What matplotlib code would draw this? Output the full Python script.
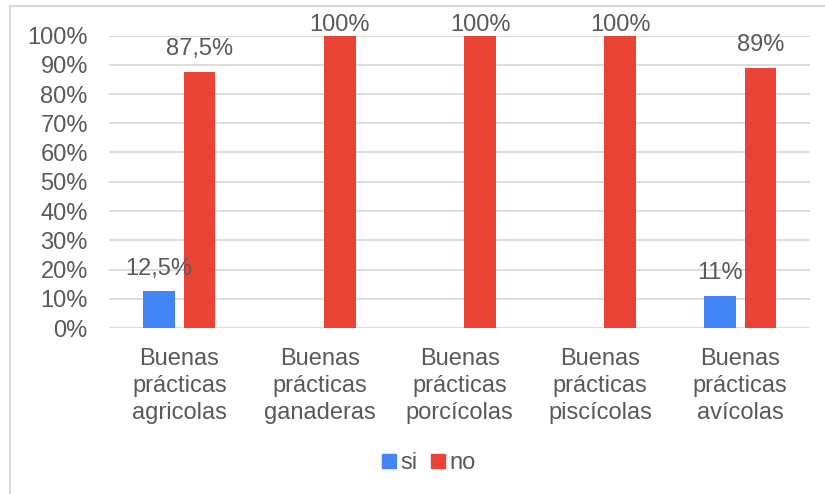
import matplotlib
matplotlib.use("Agg")
import matplotlib.pyplot as plt
import numpy as np
from matplotlib.lines import Line2D

plt.rcParams['font.family'] = ['Liberation Sans', 'DejaVu Sans']

categories = ["Buenas\nprácticas\nagricolas", "Buenas\nprácticas\nganaderas",
              "Buenas\nprácticas\nporcícolas", "Buenas\nprácticas\npiscícolas",
              "Buenas\nprácticas\navícolas"]
si_values = [12.5, 0, 0, 0, 11]
no_values = [87.5, 100, 100, 100, 89]
si_labels = ["12,5%", "", "", "", "11%"]
no_labels = ["87,5%", "100%", "100%", "100%", "89%"]
yticks = [0, 10, 20, 30, 40, 50, 60, 70, 80, 90, 100]

blue = "#4285F4"
red = "#EA4335"
txt = "#595959"
grid = "#D9D9D9"

W, H = 825, 494
fig = plt.figure(figsize=(8.25, 4.94), dpi=100)
ax = fig.add_axes([109.3 / W, 1 - 328 / H, (810.3 - 109.3) / W, (328 - 35.5) / H])

x = np.arange(len(categories))
bw = 0.225
gap = 0.064
off = (bw + gap) / 2
ax.bar(x - off, si_values, bw, color=blue, label="si", zorder=3)
ax.bar(x + off, no_values, bw, color=red, label="no", zorder=3)

fs = 17
for xs, vals, labs in ((x - off, si_values, si_labels), (x + off, no_values, no_labels)):
    for xi, v, lab in zip(xs, vals, labs):
        if lab:
            ax.annotate(lab, (xi, v), xytext=(0, 8.5 if v < 95 else -0.5), textcoords="offset points",
                        ha="center", va="bottom", fontsize=fs, color=txt, zorder=4,
                        annotation_clip=False)

ax.set_xlim(-0.5, len(categories) - 0.5)
ax.set_ylim(0, 100)
ax.set_yticks(yticks)
ax.set_yticklabels([f"{t}%" for t in yticks])
ax.set_xticks(x)
ax.set_xticklabels(categories, linespacing=1.3)
ax.tick_params(axis="both", length=0, labelsize=fs, labelcolor=txt)
ax.tick_params(axis="y", pad=15.5)
ax.tick_params(axis="x", pad=14.5)
ax.grid(axis="y", color=grid, linewidth=1.3, zorder=0)
for s in ax.spines.values():
    s.set_visible(False)

handles = [Line2D([], [], marker="s", linestyle="none", markersize=10, color=blue),
           Line2D([], [], marker="s", linestyle="none", markersize=10, color=red)]
fig.legend(handles, ["si", "no"], loc="center", bbox_to_anchor=(428 / W, 1 - 463 / H),
           ncol=2, frameon=False, fontsize=fs, labelcolor=txt, handlelength=0.7,
           handletextpad=0.15, columnspacing=0.5)

# figure border
fig.add_artist(Line2D([10 / W, 10 / W], [0, 1 - 6 / H], transform=fig.transFigure, color=grid, linewidth=1.5))
fig.add_artist(Line2D([10 / W, 1], [1 - 6 / H, 1 - 6 / H], transform=fig.transFigure, color=grid, linewidth=1.5))

fig.savefig("out.png", dpi=100, facecolor="white")
